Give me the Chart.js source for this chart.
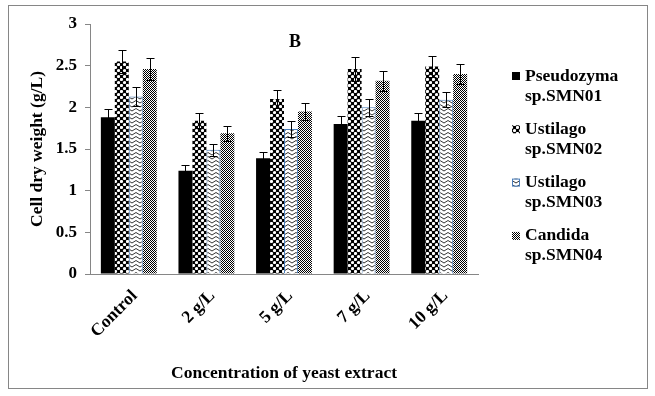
<!DOCTYPE html>
<html>
<head>
<meta charset="utf-8">
<script src="https://cdn.jsdelivr.net/npm/chart.js@4.4.1/dist/chart.umd.min.js"></script>
<style>
	html, body { margin: 0; padding: 0; background: #fff; }
	#wrap { width: 655px; height: 396px; position: relative; }
</style>
</head>
<body>
<div id="wrap"><canvas id="cdw"></canvas></div>
<script>
// values
const categories = ['Control', '2 g/L', '5 g/L', '7 g/L', '10 g/L']
const seriesNames = [['Pseudozyma', 'sp.SMN01'], ['Ustilago', 'sp.SMN02'], ['Ustilago', 'sp.SMN03'], ['Candida', 'sp.SMN04']]
const smn01 = [1.88, 1.24, 1.39, 1.80, 1.84]
const smn02 = [2.55, 1.84, 2.10, 2.46, 2.49]
const smn03 = [2.13, 1.49, 1.74, 2.00, 2.09]
const smn04 = [2.46, 1.69, 1.95, 2.32, 2.40]
const err01 = [0.10, 0.07, 0.08, 0.10, 0.09]
const err02 = [0.14, 0.09, 0.11, 0.14, 0.13]
const err03 = [0.11, 0.07, 0.10, 0.10, 0.09]
const err04 = [0.13, 0.09, 0.10, 0.12, 0.12]
const yMin = 0, yMax = 3, yStep = 0.5

const serif = '"Liberation Serif", "Times New Roman", serif'
const axisGrey = '#868686'

let makePattern = draw => {
	let c = document.createElement('canvas')
	draw(c, c.getContext('2d'))
	return document.getElementById('cdw').getContext('2d').createPattern(c, 'repeat')
}
// black with white round holes
let dotsPat = makePattern((c, g) => {
	c.width = 6; c.height = 6
	g.fillStyle = '#000'; g.fillRect(0, 0, 6, 6)
	g.fillStyle = '#fff'
	g.beginPath(); g.arc(1.5, 1.5, 1.6, 0, Math.PI * 2); g.fill()
	g.beginPath(); g.arc(4.5, 4.5, 1.6, 0, Math.PI * 2); g.fill()
})
// white with zigzag lines
let zigPat = makePattern((c, g) => {
	c.width = 8; c.height = 4
	g.fillStyle = '#fff'; g.fillRect(0, 0, 8, 4)
	g.strokeStyle = '#000'; g.lineWidth = 0.8
	g.beginPath(); g.moveTo(0, 0.5); g.lineTo(4, 3); g.lineTo(8, 0.5); g.stroke()
})
// fine checker
let finePat = makePattern((c, g) => {
	c.width = 2; c.height = 2
	g.fillStyle = '#fff'; g.fillRect(0, 0, 2, 2)
	g.fillStyle = '#000'; g.fillRect(0, 0, 1, 1); g.fillRect(1, 1, 1, 1)
})

const errs = [err01, err02, err03, err04]

let errorBars = {
	id: 'errorBars',
	afterDatasetsDraw(chart) {
		let g = chart.ctx, ys = chart.scales.y
		g.save()
		g.strokeStyle = '#000'
		g.lineWidth = 1
		chart.data.datasets.forEach((ds, di) => {
			chart.getDatasetMeta(di).data.forEach((bar, i) => {
				let v = ds.data[i], e = errs[di][i]
				let x = Math.round(bar.x) + 0.5
				let t = Math.round(ys.getPixelForValue(v + e)) + 0.5
				let b = Math.round(ys.getPixelForValue(v - e)) + 0.5
				g.beginPath()
				g.moveTo(x, t); g.lineTo(x, b)
				g.moveTo(x - 4, t); g.lineTo(x + 4, t)
				g.moveTo(x - 4, b); g.lineTo(x + 4, b)
				g.stroke()
			})
		})
		g.restore()
	}
}

let frameAndLegend = {
	id: 'frameAndLegend',
	beforeDraw(chart) {
		let g = chart.ctx
		g.save()
		g.fillStyle = '#fff'
		g.fillRect(0, 0, chart.width, chart.height)
		g.strokeStyle = axisGrey
		g.lineWidth = 1
		g.strokeRect(8.5, 5.5, 639, 383)
		g.restore()
	},
	afterDraw(chart) {
		let g = chart.ctx
		g.save()
		// panel letter
		g.font = 'bold 18px ' + serif
		g.fillStyle = '#000'
		g.textAlign = 'center'
		g.textBaseline = 'middle'
		g.fillText('B', 295, 42)
		// legend on the right
		g.textAlign = 'left'
		g.font = 'bold 17.5px ' + serif
		chart.data.datasets.forEach((ds, i) => {
			let y = 76 + i * 53.3
			g.fillStyle = ds.backgroundColor
			g.fillRect(512, y - 4, 8, 8)
			if (ds.borderWidth) {
				g.strokeStyle = ds.borderColor
				g.lineWidth = 1
				g.strokeRect(512.5, y - 3.5, 7, 7)
			}
			g.fillStyle = '#000'
			ds.label.forEach((line, k) => g.fillText(line, 525, y + k * 20))
		})
		g.restore()
	}
}

new Chart(document.getElementById('cdw'), {
	type: 'bar',
	data: {
		labels: categories,
		datasets: [
			{ label: seriesNames[0], data: smn01, backgroundColor: '#000', borderWidth: 0 },
			{ label: seriesNames[1], data: smn02, backgroundColor: dotsPat, borderWidth: 0 },
			{ label: seriesNames[2], data: smn03, backgroundColor: zigPat, borderColor: '#4a7ebb', borderWidth: 1 },
			{ label: seriesNames[3], data: smn04, backgroundColor: finePat, borderWidth: 0 }
		]
	},
	options: {
		responsive: true,
		maintainAspectRatio: false,
		animation: false,
		layout: { padding: { left: 0, top: 24, right: 177, bottom: 0 } },
		categoryPercentage: 0.72,
		barPercentage: 1,
		plugins: {
			legend: { display: false },
			tooltip: { enabled: false }
		},
		scales: {
			x: {
				grid: { display: false, drawTicks: false },
				border: { color: axisGrey, width: 1 },
				afterFit: s => { s.height = 122 },
				ticks: {
					color: '#000',
					font: { family: serif, size: 17.5, weight: 'bold' },
					maxRotation: 45, minRotation: 45,
					labelOffset: 6,
					padding: 12
				},
				title: {
					display: true,
					text: 'Concentration of yeast extract',
					color: '#000',
					font: { family: serif, size: 17.5, weight: 'bold' },
					padding: { top: 0, bottom: 12 }
				}
			},
			y: {
				min: yMin, max: yMax,
				afterFit: s => { s.width = 90 },
				grid: { drawOnChartArea: false, drawTicks: true, tickLength: 5, color: axisGrey },
				border: { color: axisGrey, width: 1 },
				ticks: {
					stepSize: yStep,
					color: '#000',
					font: { family: serif, size: 17, weight: 'bold' },
					padding: 8,
					callback: v => String(+v.toFixed(1))
				},
				title: {
					display: true,
					text: 'Cell dry weight (g/L)',
					color: '#000',
					font: { family: serif, size: 17.5, weight: 'bold' },
					padding: { top: 27, bottom: 0 }
				}
			}
		}
	},
	plugins: [frameAndLegend, errorBars]
})
</script>
</body>
</html>
